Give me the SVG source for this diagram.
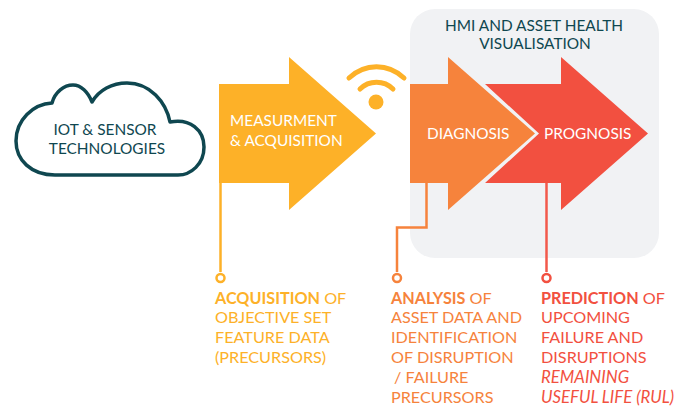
<svg xmlns="http://www.w3.org/2000/svg" width="687" height="406" viewBox="0 0 687 406">
<style>
text{font-family:Lato,"Liberation Sans",sans-serif;font-size:15.400px}
.d{fill:#0f4750}.w{fill:#fff;}.m{text-anchor:middle}
.y{fill:#fdb128}.o{fill:#f6833c}.r{fill:#f25040}
.ln{fill:none;stroke-width:2.500}
.dot{fill:#fff;stroke-width:2.500}
.b{font-weight:700}
.n{font-size:16.200px}
.i{font-size:16.800px;font-style:italic}
</style>
<rect id="panel" x="410" y="9" width="249" height="249" rx="25" fill="#f1f2f4"/>
<g id="panel-title"><text class="d m" x="534" y="31">HMI AND ASSET HEALTH</text><text class="d m" x="535" y="49">VISUALISATION</text></g>
<g id="connectors">
<path class="ln" stroke="#fdb128" d="M220.500 183V272"/>
<path class="ln" stroke="#f6833c" d="M426.500 183V227.500H397V272"/>
<path class="ln" stroke="#f2594b" d="M546.500 183V272"/>
<circle class="dot" stroke="#fdb128" cx="220.500" cy="278" r="4"/>
<circle class="dot" stroke="#f6833c" cx="397" cy="278" r="4"/>
<circle class="dot" stroke="#f25040" cx="546.500" cy="278" r="4"/>
</g>
<g id="cloud">
<path d="M55 175C31 175 16 160 16 141C16 120 33 104 52 103C55 92 64 85 73 85C81 85 88 92 92 102C99 90 112 83 127 83C150 83 166 102 170 122C190 118 204 130 204 147C204 164 191 175 178 175Z" fill="#fff" stroke="#0f4750" stroke-width="3.500" stroke-linejoin="round"/>
<text class="d m" x="105" y="135">IOT &amp; SENSOR</text><text class="d m" x="107" y="154">TECHNOLOGIES</text>
</g>
<g id="measurement">
<path class="y" d="M219 84H289V57L376 133.500L289 210V183H219Z"/>
<text class="w" x="230" y="126">MEASURMENT</text><text class="w" x="230" y="146">&amp; ACQUISITION</text>
</g>
<g id="wifi">
<circle class="y" cx="376" cy="102" r="7.500"/>
<path d="M349 78C365 63 388 63 404 78M360 89C369 80 384 80 393 89" fill="none" stroke="#fdb128" stroke-width="5" stroke-linecap="round"/>
</g>
<g id="prognosis">
<path class="r" d="M485 84H561V57L648 133.500L561 210V183H485L539 133.500Z"/>
<text class="w" x="544" y="139">PROGNOSIS</text>
</g>
<g id="diagnosis">
<path class="o" d="M410 84H448V57L535 133.500L448 210V183H410Z"/>
<text class="w" x="427" y="139">DIAGNOSIS</text>
</g>
<g id="acquisition-note">
<text class="y n" x="215" y="304"><tspan class="b">ACQUISITION</tspan> OF</text>
<text class="y n" x="215" y="323">OBJECTIVE SET</text>
<text class="y n" x="215" y="343">FEATURE DATA</text>
<text class="y n" x="215" y="363">(PRECURSORS)</text>
</g>
<g id="analysis-note">
<text class="o n" x="391" y="304"><tspan class="b">ANALYSIS</tspan> OF</text>
<text class="o n" x="391" y="323">ASSET DATA AND</text>
<text class="o n" x="391" y="343">IDENTIFICATION</text>
<text class="o n" x="391" y="363">OF DISRUPTION</text>
<text class="o n" x="394" y="383">/ FAILURE</text>
<text class="o n" x="391" y="403">PRECURSORS</text>
</g>
<g id="prediction-note">
<text class="r n" x="541" y="304"><tspan class="b">PREDICTION</tspan> OF</text>
<text class="r n" x="541" y="323">UPCOMING</text>
<text class="r n" x="541" y="343">FAILURE AND</text>
<text class="r n" x="541" y="363">DISRUPTIONS</text>
<text class="r i" x="541" y="383">REMAINING</text>
<text class="r i" x="541" y="403">USEFUL LIFE (RUL)</text>
</g>
</svg>
